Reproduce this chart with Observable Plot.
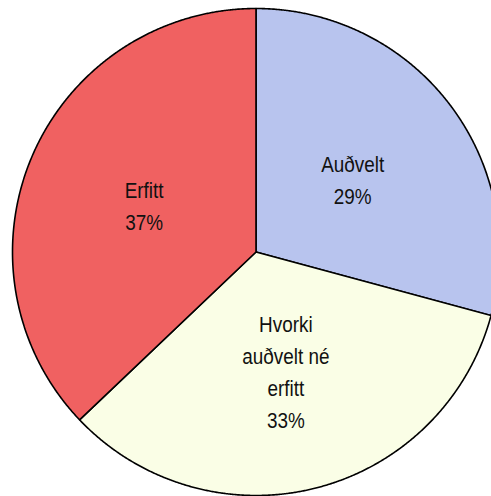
<!DOCTYPE html>
<html>
<head>
<meta charset="utf-8">
<script src="https://cdn.jsdelivr.net/npm/d3@7"></script>
<script src="https://cdn.jsdelivr.net/npm/@observablehq/plot@0.6"></script>
<style>
  html, body { margin: 0; padding: 0; background: #fff; }
</style>
</head>
<body>
<div id="chart"></div>
<script>
const categories = ["Auðvelt", "Hvorki\nauðvelt né\nerfitt", "Erfitt"];
const values = [29.2, 33.7, 37.1];
const percentLabels = ["29%", "33%", "37%"];
const colors = ["#b8c4ee", "#fafee6", "#f06161"];

const W = 491, H = 496;
const cx = 255.5, cy = 251.5, R = 243.5;

const pie = d3.pie().sort(null).value(d => d)(values);

const polys = [];
const labels = [];
pie.forEach((p, i) => {
  const a0 = p.startAngle, a1 = p.endAngle;
  polys.push({slice: i, x: 0, y: 0});
  const n = Math.max(2, Math.ceil((a1 - a0) / (Math.PI / 720)));
  for (let k = 0; k <= n; k++) {
    const a = a0 + (a1 - a0) * k / n;
    polys.push({slice: i, x: Math.sin(a), y: Math.cos(a)});
  }
  polys.push({slice: i, x: 0, y: 0});
  const am = (a0 + a1) / 2;
  labels.push({slice: i, x: 0.5 * Math.sin(am), y: 0.5 * Math.cos(am), text: categories[i] + "\n" + percentLabels[i]});
});

const chart = Plot.plot({
  width: W,
  height: H,
  margin: 0,
  x: {domain: [-cx / R, (W - cx) / R], axis: null},
  y: {domain: [-(H - cy) / R, cy / R], axis: null},
  style: {background: "#fff", overflow: "hidden"},
  marks: [
    Plot.line(polys, {
      x: "x", y: "y", z: "slice",
      fill: d => colors[d.slice],
      stroke: "#000", strokeWidth: 1.6, strokeLinejoin: "round"
    }),
    Plot.text(labels, {
      x: "x", y: "y", text: "text",
      fontSize: 22, lineHeight: 1.45,
      fontFamily: "'Liberation Sans Narrow', 'Arial Narrow', 'Liberation Sans', Arial, sans-serif",
      fill: "#111"
    })
  ]
});
// condense the label glyphs horizontally (narrow sans look)
d3.select(chart).selectAll("g[aria-label=text] text").each(function() {
  const t = this.getAttribute("transform") || "";
  this.setAttribute("transform", t + " scale(0.86,1)");
});
document.getElementById("chart").appendChild(chart);
</script>
</body>
</html>
